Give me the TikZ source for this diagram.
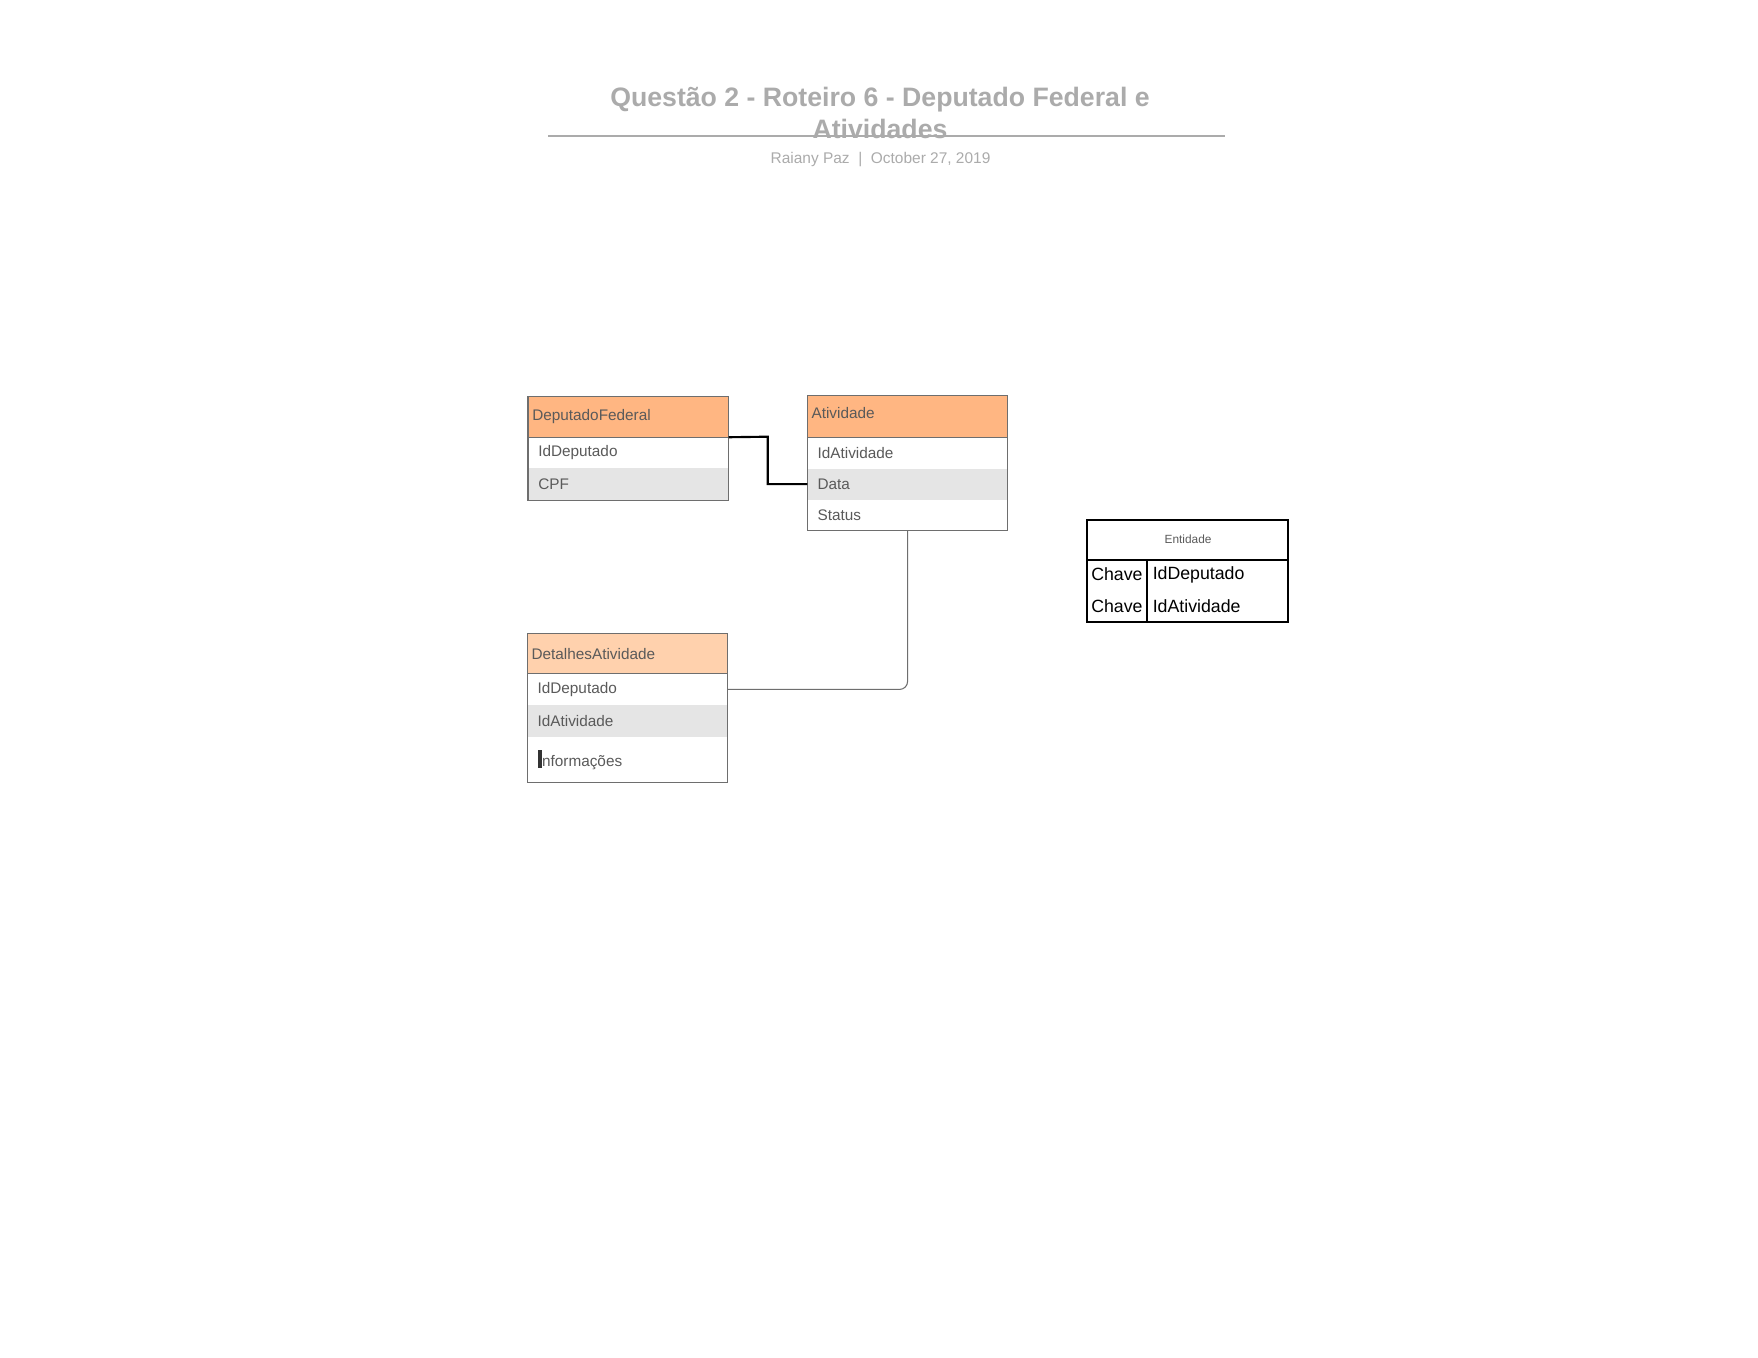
\documentclass[tikz,border=0pt]{standalone}
\usepackage{fontspec}
\setmainfont{Liberation Sans}
\begin{document}
\definecolor{hdrA}{HTML}{FFB682}
\definecolor{hdrB}{HTML}{FFD1AD}
\definecolor{rowgray}{HTML}{E5E5E5}
\definecolor{txt}{HTML}{5A5A5A}
\definecolor{edge}{HTML}{6E6E6E}
\definecolor{ttl}{HTML}{ABABAB}
\begin{tikzpicture}[x=0.75pt,y=-0.75pt,
  cell/.style={anchor=north west,inner ysep=0pt,minimum width=150pt,
    font=\fontsize{11.5}{13}\selectfont,text=txt},
  hdr/.style={cell,inner xsep=3pt,text width=144pt,align=left,minimum height=30pt},
  row/.style={cell,inner xsep=7.5pt,text width=135pt,align=left,minimum height=#1},
  row/.default=23.25pt,
  border/.style={draw=edge,line width=0.8pt},
  ent/.style={font=\fontsize{13.3}{15}\selectfont,anchor=west,inner sep=0pt}]
\useasboundingbox[fill=white] (0,0) rectangle (1758,1358);

% heading
\node[font=\fontsize{20}{23.6}\selectfont\bfseries,text=ttl,align=center] (title) at (880,113)
  {Questão 2 - Roteiro 6 - Deputado Federal e\\Atividades};
\draw[ttl,line width=1.5pt] (548,135.7) coordinate (tl) -- (1225,135.7) coordinate (tr);
\node[font=\fontsize{11.6}{13}\selectfont,text=ttl] (sub) at (880.5,160)
  {Raiany Paz \ | \ October 27, 2019};

% table DeputadoFederal
\node[hdr,fill=hdrA] (df) at (528,396.7) {DeputadoFederal};
\node[row] (df1) at (528,436.7) {IdDeputado};
\node[row=24.2pt,fill=rowgray] (df2) at (528,467.7) {CPF};
\draw[border] (df.south west) -- (df.south east);
\draw[border] (df.north west) rectangle (df2.south east);

% table Atividade
\fill[hdrA] (807.3,395.7) rectangle (1007.3,437.3);
\node[hdr] (at) at (807.3,393.2) {Atividade};
\node[row] (at1) at (807.3,437.3) {IdAtividade};
\node[row,fill=rowgray] (at2) at (807.3,468.3) {Data};
\node[row] (at3) at (807.3,499.3) {Status};
\draw[border] (at1.north west) -- (at1.north east);
\draw[border] (807.3,395.7) rectangle (at3.south east);

% table DetalhesAtividade
\node[hdr,fill=hdrB] (da) at (527.3,633.3) {DetalhesAtividade};
\node[row=23.8pt] (da1) at (527.3,673.3) {IdDeputado};
\node[row=23.8pt,fill=rowgray] (da2) at (527.3,705) {IdAtividade};
\node[row=34.2pt] (da3) at (527.3,736.7)
  {{\color{black!80}\rule[-1pt]{3.4pt}{13.6pt}}nformações};
\draw[border] (da.south west) -- (da.south east);
\draw[border] (da.north west) rectangle (da3.south east);

% connectors
\draw[black,line width=1.6pt] (df.south east) -- (767.7,436.7) |- (at2.west);
\draw[edge,line width=0.8pt,rounded corners=6pt] (at3.south) |- (da1.east);

% legend box
\node[anchor=north west,minimum width=150.75pt,minimum height=30pt,inner sep=0pt,
  font=\fontsize{8.9}{10}\selectfont,text=txt] (ent) at (1087.3,519) {Entidade};
\coordinate (entbl) at (1087.3,622.3);
\coordinate (entdiv) at (1147.3,560);
\draw[black,line width=1.6pt] (1087.3,520) rectangle (1288.3,622.3);
\draw[black,line width=1.6pt] (1087.3,560) -- (1288.3,560);
\draw[black,line width=1.6pt] (entdiv) -- (entdiv |- entbl);
\node[ent] (k1) at (1091,574.5) {Chave};
\node[ent] (k2) at (1091,606.5) {Chave};
\node[ent] (v1) at (1152.5,574.5) {IdDeputado};
\node[ent] (v2) at (1152.5,606.5) {IdAtividade};
\end{tikzpicture}
\end{document}
